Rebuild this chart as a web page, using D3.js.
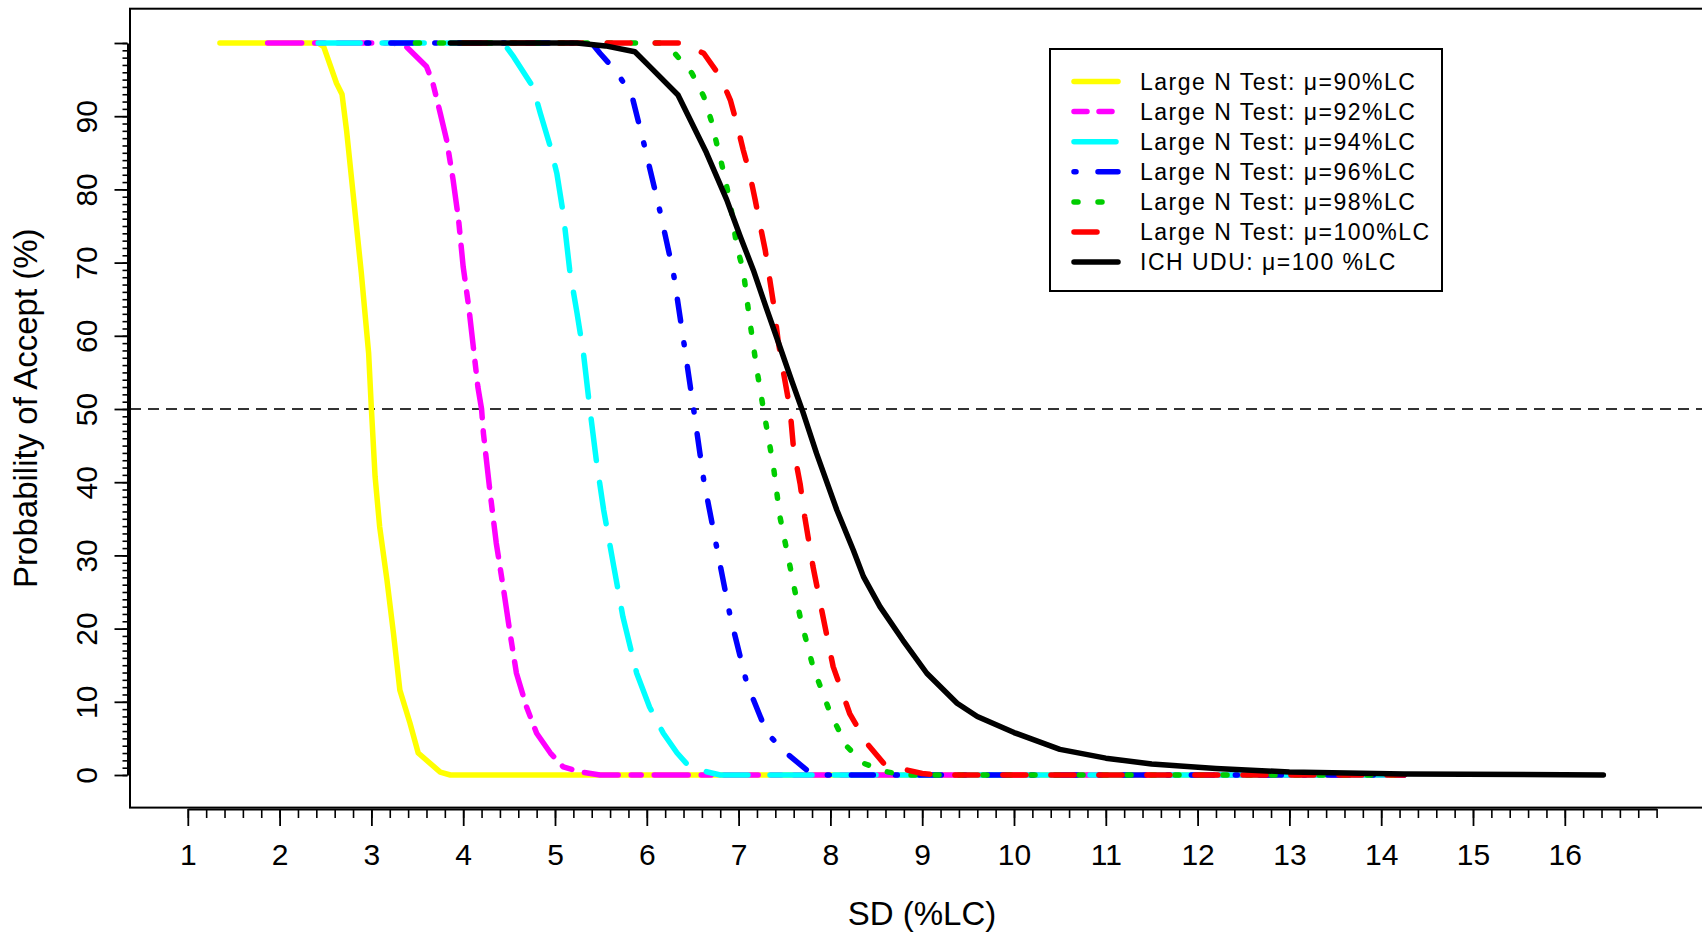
<!DOCTYPE html>
<html>
<head>
<meta charset="utf-8">
<script src="https://cdn.jsdelivr.net/npm/d3@7"></script>
<style>
html,body{margin:0;padding:0;background:#fff;overflow:hidden}
text{font-family:"Liberation Sans",Arial,sans-serif;fill:#000}
</style>
</head>
<body>
<svg id="chart" width="1702" height="935"></svg>
<script>
// ---------------- data ----------------
const legendLabels = [
  "Large N Test: \u03bc=90%LC",
  "Large N Test: \u03bc=92%LC",
  "Large N Test: \u03bc=94%LC",
  "Large N Test: \u03bc=96%LC",
  "Large N Test: \u03bc=98%LC",
  "Large N Test: \u03bc=100%LC",
  "ICH UDU: \u03bc=100 %LC"
];
const xTickValues = [1,2,3,4,5,6,7,8,9,10,11,12,13,14,15,16];
const yTickValues = [0,10,20,30,40,50,60,70,80,90,100];
const yTickLabels = ["0","10","20","30","40","50","60","70","80","90",""];
const refLine = 50;

const sdMu90 = [1.35,2.42,2.48,2.62,2.68,2.73,2.80,2.89,2.97,3.00,3.04,3.09,3.17,3.24,3.31,3.42,3.51,3.75,3.86,14.25];
const pMu90  = [100,100,99.5,94.5,93,88,79.5,68.6,57.6,50,40.8,33.9,26.6,19.4,11.6,7.1,3.0,0.4,0,0];

const sdMu92 = [1.87,3.24,3.38,3.60,3.67,3.75,3.82,3.89,3.95,4.00,4.06,4.11,4.16,4.20,4.22,4.29,4.36,4.44,4.51,4.58,4.69,4.80,4.95,5.09,5.27,5.49,14.25];
const pMu92  = [100,100,99.5,96.8,94.5,90.4,86.7,81.3,75.8,69.4,64,58.5,53,50,46.7,38.9,31.7,25.3,19.4,13.9,9.3,5.7,3.0,1.1,0.45,0,0];

const sdMu94 = [2.42,4.44,4.55,4.76,4.84,4.95,5.02,5.09,5.16,5.24,5.31,5.38,5.45,5.53,5.64,5.74,5.89,6.03,6.18,6.33,6.43,6.65,6.80,14.25];
const pMu94  = [100,100,98.1,94,90.4,85.8,82.2,76.7,69,63.1,57.6,50,43,36.2,28.5,21.6,13.9,9.3,5.7,3.0,1.6,0.45,0,0];

const sdMu96 = [2.95,5.40,5.49,5.68,5.84,5.96,6.14,6.29,6.40,6.51,6.62,6.76,6.91,7.09,7.31,7.52,7.74,7.90,14.25];
const pMu96  = [100,100,98.6,95.9,92.7,86.7,77.2,68.6,59.4,50,40.3,31.2,21.6,12.5,5.7,3.0,0.7,0,0];

const sdMu98 = [3.48,6.14,6.29,6.49,6.62,6.70,6.77,6.84,6.91,6.98,7.05,7.12,7.20,7.27,7.38,7.45,7.56,7.67,7.81,8.00,8.18,8.36,8.61,8.80,14.25];
const pMu98  = [100,100,98.8,95.9,92.7,89.5,85.8,82.2,78.1,72.2,69,62.2,55.3,50,42.1,35.3,28.5,21.6,14.8,8.4,3.9,1.6,0.45,0,0];

const sdMu100 = [4.00,6.36,6.62,6.80,6.91,6.98,7.05,7.12,7.18,7.23,7.29,7.38,7.43,7.49,7.56,7.60,7.67,7.72,7.81,7.92,8.03,8.21,8.40,8.58,8.83,9.00,9.20,14.25];
const pMu100  = [100,100,98.6,95.4,92.2,89,85.4,82.2,78.6,75.4,71.7,64.4,59.4,54.9,50,44.4,39.8,35.3,28.5,21.6,14.8,8.4,4.3,1.6,0.7,0.2,0,0];

const sdIch = [3.86,5.24,5.55,5.87,6.03,6.34,6.65,6.87,7.02,7.16,7.31,7.45,7.58,7.70,7.85,8.07,8.25,8.36,8.54,8.79,9.05,9.38,9.60,10.00,10.50,11.00,11.50,12.20,13.00,14.25,16.42];
const pIch  = [100,100,99.6,98.8,96.8,92.9,85,78.6,73.5,69,63.5,58.5,53.8,49.6,43.9,36.2,30.7,27.1,23,18.4,13.9,9.8,8.0,5.8,3.5,2.3,1.5,0.9,0.4,0.15,0];

// ---------------- styles ----------------
const colors = ["#FFFF00","#FF00FF","#00FFFF","#0000FF","#00CD00","#FF0000","#000000"];
const plotDash = [null,"34,13,10,13","42,22","2,22,22,22","4,20","23,25",null];
const legendDash = [null,"13,12","42,22","2,22,22,22","4,20","23,25",null];
const LW = 5.5;

const sdSeries = [sdMu90,sdMu92,sdMu94,sdMu96,sdMu98,sdMu100,sdIch];
const pSeries  = [pMu90,pMu92,pMu94,pMu96,pMu98,pMu100,pIch];

// ---------------- layout ----------------
const svg = d3.select("#chart");
const x = d3.scaleLinear().domain([1,17]).range([187.8, 187.8 + 16*91.8]);
const y = d3.scaleLinear().domain([0,100]).range([775, 43]);

const box = {left:130, top:8.7, right:1714, bottom:807.6};

// reference dashed line at 50
svg.append("line")
  .attr("x1", box.left).attr("x2", 1702)
  .attr("y1", y(refLine)).attr("y2", y(refLine))
  .attr("stroke","#333").attr("stroke-width",2)
  .attr("stroke-dasharray","11,7");

// curves
const line = d3.line().x(d => x(d[0])).y(d => y(d[1]));
sdSeries.forEach((sds, i) => {
  const pts = sds.map((s, k) => [s, pSeries[i][k]]);
  svg.append("path")
    .attr("d", line(pts))
    .attr("fill","none")
    .attr("stroke", colors[i])
    .attr("stroke-width", LW)
    .attr("stroke-linecap","round")
    .attr("stroke-linejoin","round")
    .attr("stroke-dasharray", plotDash[i]);
});

// box
svg.append("rect")
  .attr("x", box.left).attr("y", box.top)
  .attr("width", box.right - box.left).attr("height", box.bottom - box.top)
  .attr("fill","none").attr("stroke","#000").attr("stroke-width",2);

// x axis: minor ticks
const xMinor = d3.range(1, 17.0001, 0.2);
const gxMinor = svg.append("g").attr("transform","translate(0,809)")
  .call(d3.axisBottom(x).tickValues(xMinor).tickSize(9).tickSizeOuter(0).tickFormat(""));
gxMinor.selectAll("line").attr("stroke","#000").attr("stroke-width",1.6);
gxMinor.select(".domain").attr("stroke","#000").attr("stroke-width",2);

const gx = svg.append("g").attr("transform","translate(0,809)")
  .call(d3.axisBottom(x).tickValues(xTickValues).tickSize(17).tickSizeOuter(0).tickPadding(18).tickFormat(d3.format("d")));
gx.select(".domain").remove();
gx.selectAll("line").attr("stroke","#000").attr("stroke-width",1.8);
gx.selectAll("text").attr("font-size",30).attr("font-family","'Liberation Sans',Arial,sans-serif").attr("fill","#000");

// y axis
const yMinor = d3.range(0, 100.0001, 1);
const gyMinor = svg.append("g").attr("transform","translate(127.5,0)")
  .call(d3.axisLeft(y).tickValues(yMinor).tickSize(5).tickSizeOuter(0).tickFormat(""));
gyMinor.selectAll("line").attr("stroke","#000").attr("stroke-width",1.6);
gyMinor.select(".domain").attr("stroke","#000").attr("stroke-width",2);

const gy = svg.append("g").attr("transform","translate(127.5,0)")
  .call(d3.axisLeft(y).tickValues(yTickValues).tickSize(13).tickSizeOuter(0)
    .tickFormat((d,i) => yTickLabels[i]));
gy.select(".domain").remove();
gy.selectAll("line").attr("stroke","#000").attr("stroke-width",1.8);
gy.selectAll("text")
  .attr("font-size",30).attr("font-family","'Liberation Sans',Arial,sans-serif").attr("fill","#000")
  .attr("x",0).attr("y",-31).attr("dy",0)
  .attr("text-anchor","middle")
  .attr("transform","rotate(-90)");

// axis titles
svg.append("text")
  .attr("x", (box.left + box.right)/2).attr("y", 925)
  .attr("text-anchor","middle").attr("font-size",33)
  .text("SD (%LC)");
svg.append("text")
  .attr("transform", `translate(37,${(box.top+box.bottom)/2}) rotate(-90)`)
  .attr("text-anchor","middle").attr("font-size",33)
  .text("Probability of Accept (%)");

// legend
const lg = svg.append("g");
lg.append("rect")
  .attr("x",1050).attr("y",49).attr("width",392).attr("height",242)
  .attr("fill","#fff").attr("stroke","#000").attr("stroke-width",2);
legendLabels.forEach((lab, i) => {
  const yy = 81.5 + i*30.1;
  lg.append("line")
    .attr("x1",1074).attr("x2",1118).attr("y1",yy).attr("y2",yy)
    .attr("stroke",colors[i]).attr("stroke-width",LW)
    .attr("stroke-linecap","round")
    .attr("stroke-dasharray",legendDash[i]);
  lg.append("text")
    .attr("x",1140).attr("y",yy).attr("dy","0.36em")
    .attr("font-size",23).attr("letter-spacing",1.5)
    .text(lab);
});
</script>
</body>
</html>
